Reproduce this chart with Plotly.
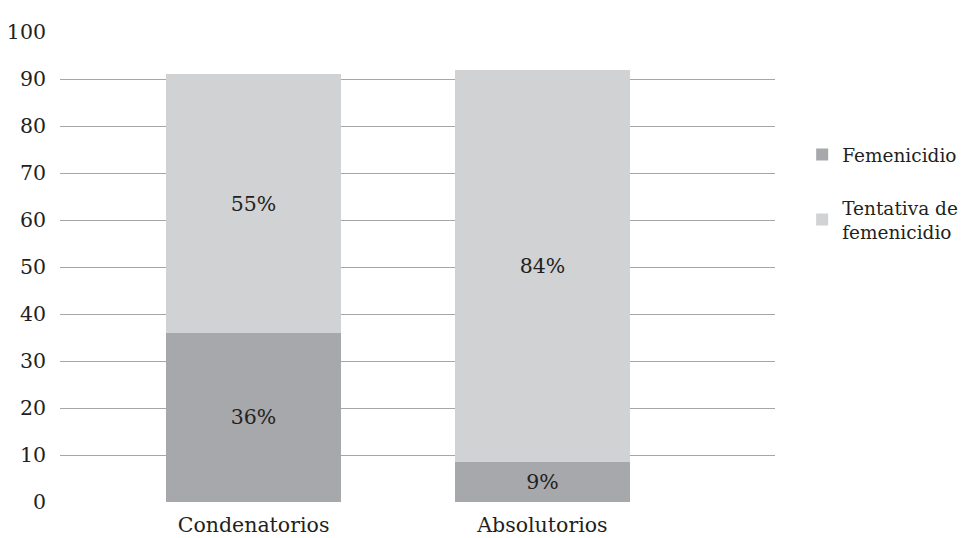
import plotly.graph_objects as go

categories = ["Condenatorios", "Absolutorios"]
femenicidio = [36, 8.6]
tentativa = [55, 83.4]
femenicidio_labels = ["36%", "9%"]
tentativa_labels = ["55%", "84%"]
y_ticks = [0, 10, 20, 30, 40, 50, 60, 70, 80, 90, 100]

FONT = "'DejaVu Serif', serif"
DARK = "#a7a8ab"
LIGHT = "#d1d2d4"
TXT = "#231f20"
FS = 20.5

fig = go.Figure()
fig.add_trace(go.Bar(
    x=categories, y=femenicidio, name="Femenicidio", legendgroup="a",
    marker=dict(color=DARK, line=dict(width=0)),
    text=femenicidio_labels, textposition="inside", insidetextanchor="middle",
    textfont=dict(family=FONT, size=FS, color=TXT), hoverinfo="skip",
))
fig.add_trace(go.Bar(
    x=categories, y=tentativa, name="Tentativa de<br>femenicidio", legendgroup="b",
    marker=dict(color=LIGHT, line=dict(width=0)),
    text=tentativa_labels, textposition="inside", insidetextanchor="middle",
    textfont=dict(family=FONT, size=FS, color=TXT), hoverinfo="skip",
))

fig.update_layout(
    barmode="stack",
    bargap=0.395,
    width=969, height=530,
    margin=dict(l=52, r=202, t=24, b=36, autoexpand=False),
    paper_bgcolor="white", plot_bgcolor="white",
    font=dict(family=FONT, size=FS, color=TXT),
    uniformtext=dict(mode=False),
    xaxis=dict(
        range=[-0.67, 1.805], showgrid=False, zeroline=False,
        showline=False, ticks="", tickfont=dict(size=FS), ticklabelstandoff=8,
    ),
    yaxis=dict(
        range=[0, 100], tickvals=y_ticks, showgrid=True, gridcolor="#a6a6a6",
        gridwidth=1, zeroline=False, showline=False, ticks="",
        tickfont=dict(size=FS), ticklabelstandoff=13,
    ),
    legend=dict(
        x=1.038, y=0.779, xanchor="left", yanchor="top",
        font=dict(family=FONT, size=18.5, color=TXT),
        traceorder="grouped", itemwidth=30, tracegroupgap=26,
        bgcolor="rgba(0,0,0,0)", borderwidth=0,
    ),
)

fig.write_html("out.html")
